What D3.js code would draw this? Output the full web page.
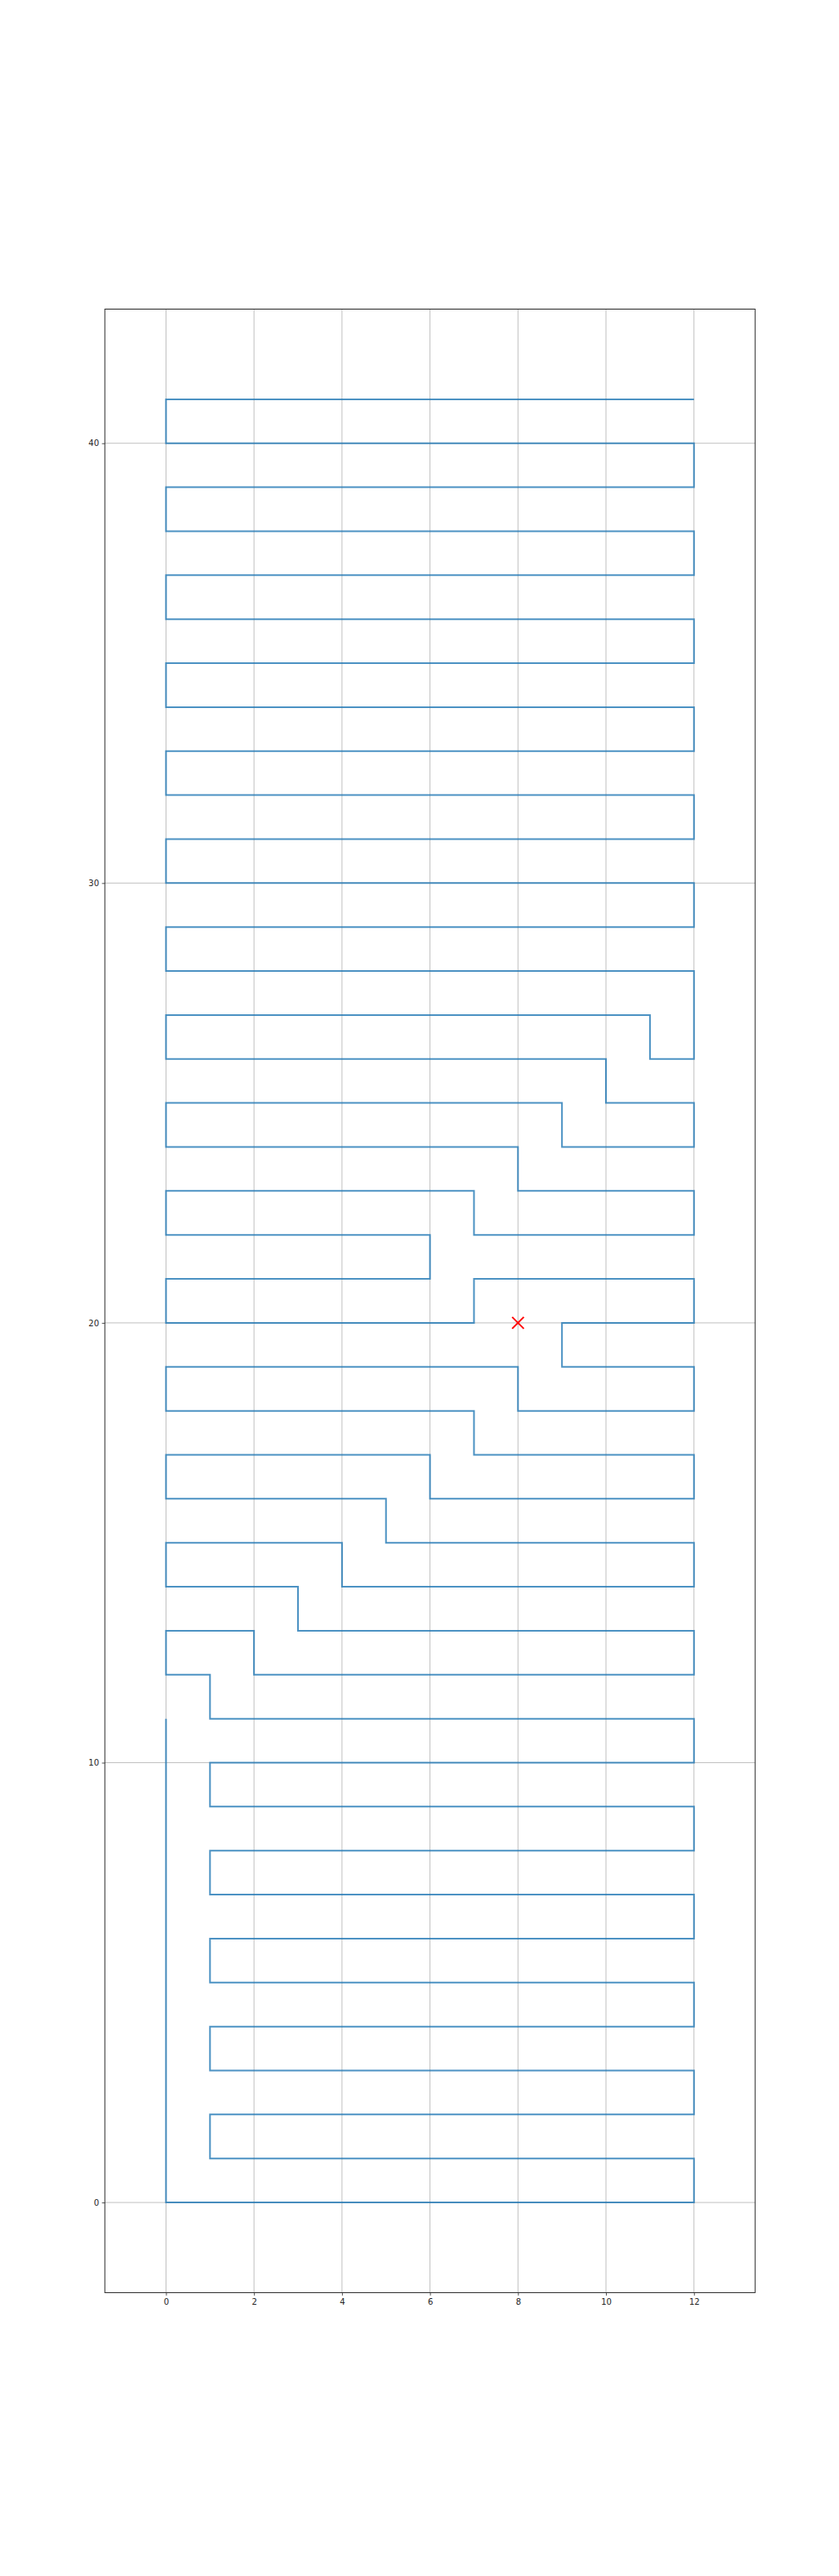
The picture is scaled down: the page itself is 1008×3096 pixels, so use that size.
<!DOCTYPE html>
<html>
<head>
<meta charset="utf-8">
<script src="https://cdn.jsdelivr.net/npm/d3@7"></script>
<style>
html,body{margin:0;padding:0;background:#fff;}
svg{display:block;}
text{font-family:"DejaVu Sans",sans-serif;}
</style>
</head>
<body>
<svg id="chart" width="1008" height="3096"></svg>
<script>
// Path vertices (serpentine route)
const pathX = [0,0,12,12,1,1,12,12,1,1,12,12,1,1,12,12,1,1,12,12,1,1,12,12,1,1,0,0,2,2,12,12,3,3,0,0,4,4,12,12,5,5,0,0,6,6,12,12,7,7,0,0,8,8,12,12,9,9,12,12,7,7,0,0,6,6,0,0,7,7,12,12,8,8,0,0,9,9,12,12,10,10,0,0,11,11,12,12,0,0,12,12,0,0,12,12,0,0,12,12,0,0,12,12,0,0,12,12,0,0,12,12,0,0,12];
const pathY = [11,0,0,1,1,2,2,3,3,4,4,5,5,6,6,7,7,8,8,9,9,10,10,11,11,12,12,13,13,12,12,13,13,14,14,15,15,14,14,15,15,16,16,17,17,16,16,17,17,18,18,19,19,18,18,19,19,20,20,21,21,20,20,21,21,22,22,23,23,22,22,23,23,24,24,25,25,24,24,25,25,26,26,27,27,26,26,28,28,29,29,30,30,31,31,32,32,33,33,34,34,35,35,36,36,37,37,38,38,39,39,40,40,41,41];
// Marker
const markerX = [8];
const markerY = [20];
// Tick labels
const xTicks = [0,2,4,6,8,10,12];
const yTicks = [0,10,20,30,40];

(function(){
const W = 1008, H = 3096;
const mLeft = 0.125*W, mRight = 0.9*W, mTop = 0.12*H, mBottom = 0.89*H;
const pw = mRight-mLeft, ph = mBottom-mTop;

const yMin = d3.min(pathY), yMax = d3.max(pathY);
const yPad = (yMax-yMin)*0.05;
const yDom = [yMin-yPad, yMax+yPad];
const pxPerUnit = ph/(yDom[1]-yDom[0]);
const xMin = d3.min(pathX), xMax = d3.max(pathX);
const xc = (xMin+xMax)/2, xHalf = pw/pxPerUnit/2;
const xDom = [xc-xHalf, xc+xHalf];

const x = d3.scaleLinear().domain(xDom).range([mLeft,mRight]);
const y = d3.scaleLinear().domain(yDom).range([mBottom,mTop]);

const svg = d3.select("#chart");

// grid
const g = svg.append("g");
g.selectAll("line.vx").data(xTicks).enter().append("line")
  .attr("x1",d=>x(d)).attr("x2",d=>x(d)).attr("y1",mTop).attr("y2",mBottom)
  .attr("stroke","#b0b0b0").attr("stroke-width",0.8);
g.selectAll("line.hy").data(yTicks).enter().append("line")
  .attr("y1",d=>y(d)).attr("y2",d=>y(d)).attr("x1",mLeft).attr("x2",mRight)
  .attr("stroke","#b0b0b0").attr("stroke-width",0.8);

// path
const pts = pathX.map((v,i)=>[v,pathY[i]]);
svg.append("path")
  .attr("d", d3.line().x(d=>x(d[0])).y(d=>y(d[1]))(pts))
  .attr("fill","none").attr("stroke","#1f77b4").attr("stroke-opacity",0.8)
  .attr("stroke-width",2).attr("stroke-linejoin","miter").attr("stroke-linecap","butt");

// marker x
const ms = 7;
markerX.forEach((mx,i)=>{
  const cx = x(mx), cy = y(markerY[i]);
  svg.append("path")
    .attr("d",`M${cx-ms},${cy-ms}L${cx+ms},${cy+ms}M${cx-ms},${cy+ms}L${cx+ms},${cy-ms}`)
    .attr("stroke","red").attr("stroke-width",2).attr("fill","none");
});

// axes
const xAxis = d3.axisBottom(x).tickValues(xTicks).tickSize(3.5).tickPadding(3.5).tickFormat(d3.format("d"));
const yAxis = d3.axisLeft(y).tickValues(yTicks).tickSize(3.5).tickPadding(3.5).tickFormat(d3.format("d"));
const ax = svg.append("g").attr("transform",`translate(0,${mBottom})`).call(xAxis);
const ay = svg.append("g").attr("transform",`translate(${mLeft},0)`).call(yAxis);
[ax,ay].forEach(a=>{
  a.select(".domain").remove();
  a.selectAll(".tick line").attr("stroke","#262626").attr("stroke-width",0.8);
  a.selectAll(".tick text").attr("fill","#262626").style("font-size","10px").style("font-family","DejaVu Sans");
});

// spines
svg.append("rect").attr("x",mLeft).attr("y",mTop).attr("width",pw).attr("height",ph)
  .attr("fill","none").attr("stroke","#262626").attr("stroke-width",1);
})();
</script>
</body>
</html>
